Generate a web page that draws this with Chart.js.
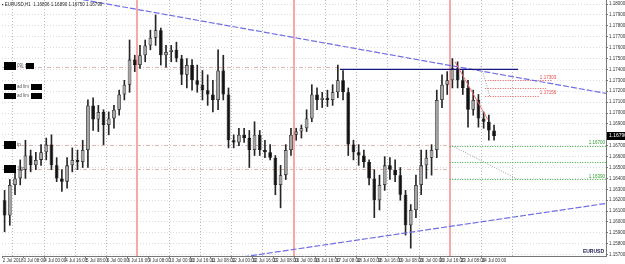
<!DOCTYPE html>
<html>
<head>
<meta charset="utf-8">
<script src="https://cdn.jsdelivr.net/npm/chart.js@4.4.0/dist/chart.umd.min.js"></script>
<style>
  html, body { margin: 0; padding: 0; background: #fff; }
  canvas { display: block; }
</style>
</head>
<body>
<canvas id="chart" width="625" height="264"></canvas>
<script>
// EURUSD, 2 Jul - 24 Jul 2018, drawn as 4-hour candles
const candleOpen = [
  1.1620, 1.1606, 1.1634, 1.1640, 1.1648, 1.1661, 1.1652, 1.1657, 1.1664, 1.1671,
  1.1652, 1.1640, 1.1637, 1.1652, 1.1657, 1.1655, 1.1666, 1.1707, 1.1694, 1.1701,
  1.1689, 1.1695, 1.1703, 1.1717, 1.1726, 1.1749, 1.1744, 1.1753, 1.1762, 1.1769,
  1.1776, 1.1753, 1.1756, 1.1758, 1.1750, 1.1735, 1.1744, 1.1730, 1.1726, 1.1721,
  1.1717, 1.1712, 1.1739, 1.1717, 1.1675, 1.1673, 1.1680, 1.1677, 1.1666, 1.1680,
  1.1666, 1.1664, 1.1659, 1.1634, 1.1643, 1.1666, 1.1680, 1.1683, 1.1686, 1.1695,
  1.1717, 1.1712, 1.1714, 1.1712, 1.1719, 1.1730, 1.1719, 1.1671, 1.1664, 1.1661,
  1.1655, 1.1640, 1.1620, 1.1634, 1.1652, 1.1648, 1.1643, 1.1625, 1.1597, 1.1611,
  1.1634, 1.1652, 1.1659, 1.1666, 1.1712, 1.1726, 1.1730, 1.1741, 1.1730, 1.1723,
  1.1703, 1.1712, 1.1695, 1.1692, 1.1684
];
const candleHigh = [
  1.1629, 1.1639, 1.1648, 1.1657, 1.1675, 1.1666, 1.1664, 1.1671, 1.1677, 1.1680,
  1.1659, 1.1648, 1.1659, 1.1668, 1.1666, 1.1675, 1.1712, 1.1714, 1.1707, 1.1703,
  1.1701, 1.1707, 1.1721, 1.1730, 1.1767, 1.1753, 1.1762, 1.1767, 1.1776, 1.1790,
  1.1778, 1.1762, 1.1762, 1.1765, 1.1753, 1.1750, 1.1749, 1.1744, 1.1739, 1.1735,
  1.1730, 1.1758, 1.1753, 1.1723, 1.1680, 1.1686, 1.1686, 1.1684, 1.1692, 1.1684,
  1.1675, 1.1671, 1.1661, 1.1652, 1.1671, 1.1686, 1.1686, 1.1689, 1.1703, 1.1726,
  1.1723, 1.1719, 1.1721, 1.1726, 1.1744, 1.1739, 1.1723, 1.1675, 1.1671, 1.1666,
  1.1657, 1.1648, 1.1643, 1.1660, 1.1659, 1.1657, 1.1650, 1.1629, 1.1616, 1.1643,
  1.1666, 1.1666, 1.1671, 1.1721, 1.1735, 1.1738, 1.1750, 1.1747, 1.1739, 1.1730,
  1.1721, 1.1717, 1.1701, 1.1698, 1.1689
];
const candleLow = [
  1.1591, 1.1597, 1.1625, 1.1634, 1.1640, 1.1646, 1.1648, 1.1652, 1.1657, 1.1648,
  1.1637, 1.1628, 1.1631, 1.1646, 1.1648, 1.1650, 1.1650, 1.1684, 1.1683, 1.1671,
  1.1680, 1.1686, 1.1698, 1.1712, 1.1719, 1.1738, 1.1741, 1.1747, 1.1758, 1.1762,
  1.1744, 1.1742, 1.1747, 1.1747, 1.1726, 1.1723, 1.1721, 1.1719, 1.1712, 1.1707,
  1.1701, 1.1703, 1.1712, 1.1668, 1.1668, 1.1670, 1.1673, 1.1650, 1.1661, 1.1661,
  1.1659, 1.1657, 1.1625, 1.1613, 1.1639, 1.1661, 1.1675, 1.1677, 1.1683, 1.1692,
  1.1703, 1.1705, 1.1706, 1.1707, 1.1714, 1.1712, 1.1661, 1.1657, 1.1652, 1.1650,
  1.1634, 1.1604, 1.1611, 1.1629, 1.1639, 1.1637, 1.1620, 1.1588, 1.1576, 1.1604,
  1.1625, 1.1640, 1.1643, 1.1659, 1.1705, 1.1717, 1.1723, 1.1723, 1.1717, 1.1687,
  1.1698, 1.1687, 1.1686, 1.1675, 1.1675
];
const candleClose = [
  1.1606, 1.1634, 1.1640, 1.1648, 1.1661, 1.1652, 1.1657, 1.1664, 1.1671, 1.1652,
  1.1640, 1.1637, 1.1652, 1.1657, 1.1655, 1.1666, 1.1707, 1.1694, 1.1701, 1.1689,
  1.1695, 1.1703, 1.1717, 1.1726, 1.1749, 1.1744, 1.1753, 1.1762, 1.1769, 1.1776,
  1.1753, 1.1756, 1.1758, 1.1750, 1.1735, 1.1744, 1.1730, 1.1726, 1.1721, 1.1717,
  1.1712, 1.1739, 1.1717, 1.1675, 1.1673, 1.1680, 1.1677, 1.1666, 1.1680, 1.1666,
  1.1664, 1.1659, 1.1634, 1.1643, 1.1666, 1.1680, 1.1683, 1.1686, 1.1695, 1.1717,
  1.1712, 1.1714, 1.1712, 1.1719, 1.1730, 1.1719, 1.1671, 1.1664, 1.1661, 1.1655,
  1.1640, 1.1620, 1.1634, 1.1652, 1.1648, 1.1643, 1.1625, 1.1597, 1.1611, 1.1634,
  1.1652, 1.1659, 1.1666, 1.1712, 1.1726, 1.1730, 1.1741, 1.1730, 1.1723, 1.1703,
  1.1712, 1.1695, 1.1692, 1.1684, 1.1679
];

// time axis labels, one every 4 candles (16 hours)
const timeLabels = [
  '2 Jul 2018', '3 Jul 08:00', '4 Jul 00:00', '4 Jul 16:00', '5 Jul 08:00', '6 Jul 00:00',
  '6 Jul 16:00', '9 Jul 08:00', '10 Jul 00:00', '10 Jul 16:00', '11 Jul 08:00', '12 Jul 00:00',
  '12 Jul 16:00', '13 Jul 08:00', '16 Jul 00:00', '16 Jul 16:00', '17 Jul 08:00', '18 Jul 00:00',
  '18 Jul 16:00', '19 Jul 08:00', '20 Jul 00:00', '20 Jul 16:00', '23 Jul 08:00', '24 Jul 00:00'
];

// price axis labels
const priceTicks = [
  1.1800, 1.1790, 1.1780, 1.1770, 1.1760, 1.1750, 1.1740, 1.1730, 1.1720, 1.1710, 1.1700, 1.1690,
  1.1680, 1.1670, 1.1660, 1.1650, 1.1640, 1.1630, 1.1620, 1.1610, 1.1600, 1.1590, 1.1580, 1.1570
];

// candle index where each day starts, and the Monday opens marked in red
const dayStarts = [2, 8, 14, 20, 26, 32, 38, 44, 50, 56, 62, 68, 74, 80, 86, 92, 98];
const weekStarts = [26, 56, 86];

// drawn objects, as [candle index, price]
const upperTrend = [[15.0, 1.1804], [115.5, 1.1718]];
const lowerTrend = [[45.8, 1.1568], [115.5, 1.1617]];
const swingHigh = [[64.4, 1.1740], [98.6, 1.1740]];
const dropLine = [[86.5, 1.1747], [92.8, 1.1694]];
const projection = [[85.9, 1.1670], [98.6, 1.1639]];
const projectionTop = [[91.5, 1.1743], [93.2, 1.1715]];
const oldLevels = [1.1742, 1.1671, 1.1649];
const oldLevelEnds = [64.4, 85.5, 85.5];
const targetLevels = [1.1670, 1.1655, 1.1639];
const targetLabels = ['1.16700', '', '1.16390'];
const entryLevels = [1.1730, 1.1723, 1.1716];
const entryEnds = [105.1, 104.0, 102.8];
const entryLabels = ['1.17303', '', '1.17156'];
const tagPrices = [1.1743, 1.1724, 1.1716, 1.1671, 1.1649];
const tagTexts = ['09) pe', 'ad lim', 'ad lim', 'tp', '1 tp'];

const headerText = 'EURUSD,H1  1.16836 1.16890 1.16750 1.16790';
const symbolText = 'EURUSD';

const FONT = 'Liberation Sans';

const wickData = candleLow.map((lo, i) => ({ x: i, y: [lo, candleHigh[i]] }));
const bodyData = candleOpen.map((o, i) => ({
  x: i,
  y: [Math.min(o, candleClose[i]), Math.max(o, candleClose[i])]
}));
const bodyFill = candleOpen.map((o, i) => candleClose[i] >= o ? '#a6a6a6' : '#111111');
const bodyEdge = candleOpen.map((o, i) => candleClose[i] >= o ? '#262626' : '#111111');

function pt(chart, p) {
  return [chart.scales.x.getPixelForValue(p[0]), chart.scales.y.getPixelForValue(p[1])];
}

function line(ctx, a, b, color, width, dash) {
  ctx.save();
  ctx.strokeStyle = color;
  ctx.lineWidth = width;
  ctx.setLineDash(dash || []);
  ctx.beginPath();
  ctx.moveTo(a[0], a[1]);
  ctx.lineTo(b[0], b[1]);
  ctx.stroke();
  ctx.restore();
}

function segment(chart, pts, color, width, dash) {
  line(chart.ctx, pt(chart, pts[0]), pt(chart, pts[1]), color, width, dash);
}

// separators and price levels behind the candles
const backgroundObjects = {
  id: 'backgroundObjects',
  beforeDatasetsDraw(chart) {
    const ctx = chart.ctx;
    const area = chart.chartArea;
    const xs = chart.scales.x;
    const ys = chart.scales.y;
    ctx.save();
    ctx.beginPath();
    ctx.rect(area.left, area.top, area.right - area.left, area.bottom - area.top);
    ctx.clip();

    dayStarts.forEach(d => {
      if (weekStarts.includes(d)) return;
      const x = Math.round(xs.getPixelForValue(d - 0.5)) + 0.5;
      line(ctx, [x, area.top], [x, area.bottom], '#b9b9c4', 1, [1, 2]);
    });
    weekStarts.forEach(d => {
      const x = Math.round(xs.getPixelForValue(d - 0.5));
      line(ctx, [x, area.top], [x, area.bottom], '#f48484', 1.4);
    });

    oldLevels.forEach((p, i) => {
      const y = Math.round(ys.getPixelForValue(p)) + 0.5;
      line(ctx, [area.left, y], [xs.getPixelForValue(oldLevelEnds[i]), y], '#e3b4b0', 1, [4, 2, 1, 2]);
    });
    targetLevels.forEach(p => {
      const y = Math.round(ys.getPixelForValue(p)) + 0.5;
      line(ctx, [xs.getPixelForValue(85.5), y], [area.right, y], '#3aa83a', 1, [1, 1.5]);
    });
    entryLevels.forEach((p, i) => {
      const y = Math.round(ys.getPixelForValue(p)) + 0.5;
      line(ctx, [xs.getPixelForValue(92.3), y], [xs.getPixelForValue(entryEnds[i]), y], '#ee5a5a', 1, [1, 1.5]);
    });
    ctx.restore();
  }
};

// trend lines, labels and tags on top of the candles
const foregroundObjects = {
  id: 'foregroundObjects',
  afterDatasetsDraw(chart) {
    const ctx = chart.ctx;
    const area = chart.chartArea;
    const xs = chart.scales.x;
    const ys = chart.scales.y;
    ctx.save();
    ctx.beginPath();
    ctx.rect(area.left, area.top, area.right - area.left, area.bottom - area.top);
    ctx.clip();

    segment(chart, upperTrend, '#6f6fe6', 1.2, [6, 2]);
    segment(chart, lowerTrend, '#6f6fe6', 1.2, [6, 2]);
    segment(chart, swingHigh, '#161680', 1.2);
    segment(chart, dropLine, '#f06a6a', 1);
    segment(chart, projection, '#9a9a9a', 1, [1, 1.5]);
    segment(chart, projectionTop, '#9a9a9a', 1, [1, 1.5]);

    ctx.font = '4.5px "' + FONT + '"';
    ctx.textBaseline = 'bottom';
    ctx.fillStyle = '#e84848';
    ctx.textAlign = 'left';
    entryLevels.forEach((p, i) => {
      if (entryLabels[i]) ctx.fillText(entryLabels[i], xs.getPixelForValue(102.8), ys.getPixelForValue(p) - 0.5);
    });
    ctx.fillStyle = '#2f9a2f';
    ctx.textAlign = 'right';
    targetLevels.forEach((p, i) => {
      if (targetLabels[i]) ctx.fillText(targetLabels[i], area.right - 1, ys.getPixelForValue(p) - 0.5);
    });

    // tags on the left edge
    ctx.textBaseline = 'middle';
    ctx.textAlign = 'left';
    tagPrices.forEach((p, i) => {
      const y = Math.round(ys.getPixelForValue(p));
      const h = (i === 1 || i === 2) ? 6 : 8;
      ctx.fillStyle = '#000';
      ctx.fillRect(4, y - h / 2, 12, h);
      ctx.fillStyle = '#555';
      ctx.fillText(tagTexts[i], 17, y);
      if (i < 3) {
        ctx.fillStyle = '#000';
        ctx.fillRect(i === 0 ? 26 : 31, y - 3, i === 0 ? 8 : 11, 6);
      }
    });

    // chart header
    ctx.fillStyle = '#222';
    ctx.font = '4.5px "' + FONT + '"';
    ctx.fillText('\u25AA ' + headerText, 2, 5);

    ctx.fillStyle = '#1c1c50';
    ctx.font = 'bold 5px "' + FONT + '"';
    ctx.textAlign = 'right';
    ctx.fillText(symbolText, area.right - 2, area.bottom - 4);
    ctx.restore();
  },
  afterDraw(chart) {
    // current price box on the price axis
    const ctx = chart.ctx;
    const area = chart.chartArea;
    const last = candleClose[candleClose.length - 1];
    const y = Math.round(chart.scales.y.getPixelForValue(last));
    ctx.save();
    ctx.fillStyle = '#000';
    ctx.fillRect(area.right + 1, y - 4, 624 - area.right, 8);
    ctx.fillStyle = '#fff';
    ctx.font = '5px "' + FONT + '"';
    ctx.textBaseline = 'middle';
    ctx.textAlign = 'left';
    ctx.fillText(last.toFixed(5), area.right + 3, y);
    ctx.restore();
  }
};

new Chart(document.getElementById('chart'), {
  type: 'bar',
  data: {
    datasets: [
      {
        label: 'body',
        data: bodyData,
        backgroundColor: bodyFill,
        borderColor: bodyEdge,
        borderWidth: 0.8,
        borderSkipped: false,
        barPercentage: 0.72,
        categoryPercentage: 1,
        grouped: false,
        order: 0
      },
      {
        label: 'wick',
        data: wickData,
        backgroundColor: '#262626',
        barThickness: 1,
        grouped: false,
        order: 1
      }
    ]
  },
  options: {
    responsive: false,
    animation: false,
    layout: { padding: { left: 2, right: 0, top: 0, bottom: 0 } },
    plugins: {
      legend: { display: false },
      tooltip: { enabled: false }
    },
    scales: {
      x: {
        type: 'linear',
        offset: false,
        min: -0.5,
        max: 115.5,
        afterBuildTicks: s => { s.ticks = timeLabels.map((t, k) => ({ value: k * 4 - 0.375 })); },
        afterFit: s => { s.height = 8; s.paddingLeft = 0; s.paddingRight = 0; },
        ticks: {
          autoSkip: false,
          maxRotation: 0,
          align: 'start',
          padding: 0,
          color: '#333',
          font: { family: FONT, size: 4.5 },
          callback: (v, i) => timeLabels[i]
        },
        grid: { offset: false, drawOnChartArea: false, drawTicks: true, tickLength: 2, color: '#777' },
        border: { display: true, color: '#777', width: 1 }
      },
      y: {
        type: 'linear',
        position: 'right',
        min: 1.15688,
        max: 1.18037,
        afterBuildTicks: s => { s.ticks = priceTicks.map(v => ({ value: v })); },
        afterFit: s => { s.width = 19; s.paddingTop = 0; s.paddingBottom = 0; },
        ticks: {
          padding: 1,
          color: '#333',
          font: { family: FONT, size: 4.5 },
          callback: v => v.toFixed(5)
        },
        grid: { color: 'rgba(190,190,210,0.55)', tickLength: 2, tickColor: '#777' },
        border: { display: true, color: '#777', width: 1, dash: [1, 2] }
      }
    }
  },
  plugins: [backgroundObjects, foregroundObjects]
});
</script>
</body>
</html>
